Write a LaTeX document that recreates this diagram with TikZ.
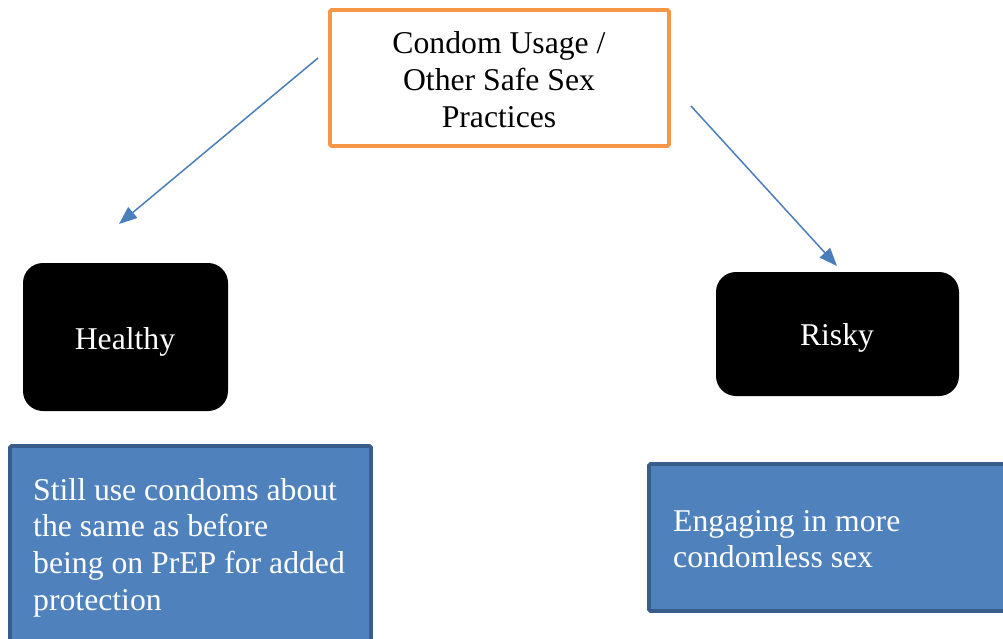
\documentclass[tikz,border=0pt]{standalone}
\usepackage{fontspec}
\setmainfont{Liberation Serif}
\usetikzlibrary{arrows.meta}
\definecolor{orangeline}{RGB}{247,150,70}
\definecolor{bluefill}{RGB}{79,129,189}
\definecolor{blueline}{RGB}{56,93,138}
\definecolor{arrowblue}{RGB}{74,126,187}
\tikzset{
  topbox/.style={draw=orangeline, line width=3.6pt, fill=white, rounded corners=1.5pt, inner sep=0pt},
  blackbox/.style={fill=black, rounded corners=20pt, inner sep=0pt, text=white, font=\fontsize{31.7}{36.7}\selectfont},
  bluebox/.style={draw=blueline, fill=bluefill, line width=3.6pt, rounded corners=1.5pt, inner sep=0pt},
  bluetext/.style={text=white, align=left, inner sep=0pt, anchor=north west, font=\fontsize{31.7}{36.7}\selectfont},
  toptext/.style={align=center, inner sep=0pt, anchor=north, font=\fontsize{31.7}{36.9}\selectfont},
  link/.style={draw=arrowblue, line width=1.5pt, -{Triangle[length=18pt,width=14pt]}}
}
\begin{document}
\begin{tikzpicture}[x=1pt,y=-1pt]
\useasboundingbox (0,0) rectangle (1003,638);
% top box
\node[topbox, minimum width=339pt, minimum height=136pt] (top) at (499.5,78) {};
\node[toptext] (toptxt) at (499,31) {Condom Usage /\\Other Safe Sex\\Practices};
% black boxes
\node[blackbox, minimum width=205pt, minimum height=148pt] (healthy) at (125.5,337) {};
\node[text=white, inner sep=0pt, anchor=base, font=\fontsize{31.7}{36.7}\selectfont] (htxt) at (125,349) {Healthy};
\node[blackbox, minimum width=243pt, minimum height=124pt] (risky) at (837.5,334) {};
\node[text=white, inner sep=0pt, anchor=base, font=\fontsize{31.7}{36.7}\selectfont] (rktxt) at (837,345) {Risky};
% blue boxes
\node[bluebox, minimum width=361pt, minimum height=260pt] (lbox) at (190.5,576) {};
\node[bluetext] (ltxt) at (33,478) {Still use condoms about\\the same as before\\being on PrEP for added\\protection};
\node[bluebox, minimum width=400pt, minimum height=147pt] (rbox) at (849,537.5) {};
\node[bluetext] (rtxt) at (673,510) {Engaging in more\\condomless sex};
% connectors
\coordinate (a1) at (318,58);
\coordinate (a2) at (119,224);
\coordinate (b1) at (691,106);
\coordinate (b2) at (837,266);
\draw[link] (a1) -- (a2);
\draw[link] (b1) -- (b2);
\end{tikzpicture}
\end{document}
